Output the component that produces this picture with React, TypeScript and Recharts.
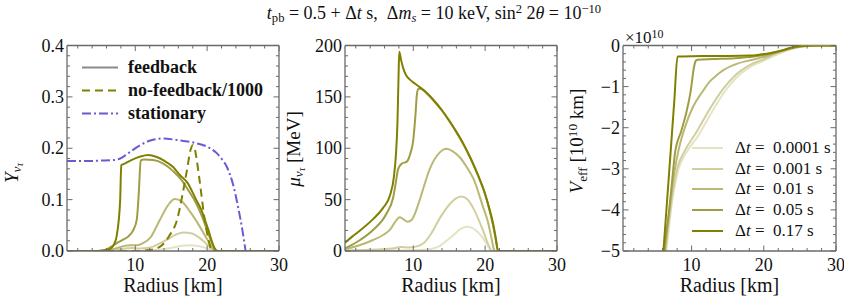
import React from 'react';
import { LineChart, Line, XAxis, YAxis, ReferenceLine } from 'recharts';

type Pt = [number, number];

// ---- values (radius in km, value) ----
const dtLabels = ['0.0001', '0.001', '0.01', '0.05', '0.17'];
const dtColors = ['#e4e3c4', '#d1cf9e', '#bab874', '#9f9d44', '#808000'];

// Y_nu_tau
const yDt00001: Pt[] = [[0.5, 0], [10, 0], [12, 0.001], [13.5, 0.003], [15, 0.006], [16.5, 0.01], [17.6, 0.011], [18.5, 0.01], [19.5, 0.007], [20.5, 0.003], [21.3, 0], [30, 0]];
const yDt0001: Pt[] = [[0.5, 0], [6, 0], [7.5, 0.002], [8.5, 0.005], [9.5, 0.006], [10.5, 0.005], [12.1, 0.007], [13, 0.012], [14.4, 0.022], [15.5, 0.031], [16.7, 0.036], [17.9, 0.034], [19, 0.025], [20.2, 0.01], [21, 0.001], [21.3, 0], [30, 0]];
const yDt001: Pt[] = [[0.5, 0], [5, 0], [6.5, 0.002], [7.5, 0.006], [8.5, 0.01], [9.3, 0.011], [10.2, 0.011], [11, 0.015], [12.1, 0.026], [13.4, 0.06], [14.6, 0.09], [15.5, 0.101], [16.5, 0.096], [17.6, 0.077], [19, 0.047], [20.2, 0.018], [21, 0.002], [21.3, 0], [30, 0]];
const yDt005: Pt[] = [[0.5, 0], [5, 0], [6, 0.003], [6.5, 0.007], [7.4, 0.015], [8.3, 0.022], [9, 0.028], [9.7, 0.04], [10.2, 0.06], [10.5, 0.115], [10.75, 0.176], [11.2, 0.178], [12.5, 0.177], [13.9, 0.17], [15.3, 0.155], [16.5, 0.137], [17.2, 0.122], [18.5, 0.092], [19.3, 0.067], [20, 0.04], [20.6, 0.018], [21.1, 0.004], [21.5, 0], [30, 0]];
const yDt017: Pt[] = [[0.5, 0], [4, 0], [5.5, 0.001], [6.5, 0.004], [7, 0.012], [7.4, 0.028], [7.7, 0.06], [7.9, 0.1], [8.05, 0.167], [8.5, 0.17], [9.3, 0.176], [10.7, 0.184], [11.8, 0.187], [13, 0.183], [14, 0.176], [15.3, 0.163], [16.2, 0.148], [17.2, 0.134], [18.5, 0.099], [19.2, 0.08], [19.7, 0.06], [20.2, 0.04], [20.6, 0.021], [21, 0.006], [21.4, 0], [30, 0]];
const yNoFeedback: Pt[] = [[0.5, 0], [10, 0], [12, 0.002], [13.4, 0.008], [14.8, 0.031], [15.8, 0.06], [16.6, 0.112], [17.2, 0.158], [17.7, 0.197], [18, 0.206], [18.3, 0.198], [18.5, 0.182], [19, 0.132], [19.6, 0.067], [20.2, 0.021], [20.6, 0.002], [20.8, 0], [30, 0]];
const yStationary: Pt[] = [[0.5, 0.175], [3, 0.175], [5.1, 0.176], [7, 0.177], [7.9, 0.18], [8.6, 0.186], [9.3, 0.193], [10.7, 0.206], [12.1, 0.215], [13.9, 0.219], [15.8, 0.216], [18.1, 0.211], [20, 0.203], [21.3, 0.191], [22.1, 0.178], [22.7, 0.165], [23.2, 0.148], [23.6, 0.13], [24.3, 0.086], [24.9, 0.041], [25.35, 0]];

// mu_nu_tau [MeV]
const muDt00001: Pt[] = [[0.5, 0], [8, 0.5], [11, 1], [12.5, 2], [13.7, 5], [15, 12], [15.6, 15.5], [16.5, 21], [17.4, 23.5], [18.3, 22], [19.3, 16], [20.2, 7.5], [20.9, 0], [30, 0]];
const muDt0001: Pt[] = [[0.5, 0.5], [5, 1.5], [7.5, 3], [8.2, 4], [9.5, 3.5], [10.5, 4.5], [11.5, 8], [12.5, 17], [13.7, 32], [15, 45], [16, 51.5], [16.7, 53], [17.5, 50.5], [18.4, 41], [19.7, 20], [20.4, 7], [21, 0], [30, 0]];
const muDt001: Pt[] = [[0.5, 1.7], [2.6, 5.8], [4.4, 10.7], [5.8, 15.6], [6.8, 21.1], [7.5, 28.5], [8.1, 32.8], [8.6, 31], [9.2, 28.5], [9.8, 30.5], [10.5, 41.5], [11, 52], [12.3, 80], [13.7, 96], [14.6, 99.5], [15.5, 97], [16.5, 91], [17.5, 81], [18.4, 70], [19.7, 43], [20.4, 28], [20.9, 12], [21.2, 2], [21.35, 0], [30, 0]];
const muDt005: Pt[] = [[0.5, 2.5], [2.6, 10.7], [4.4, 20.4], [6.3, 36.7], [7.2, 52], [7.6, 68], [7.9, 80], [8.4, 85], [9.1, 87], [9.6, 95], [10, 108], [10.3, 132], [10.5, 152], [10.7, 158], [11, 158], [12, 152.5], [13, 145], [14, 136.5], [15, 126.5], [16, 115.5], [17, 103.5], [18, 89.5], [19, 73.5], [20, 55], [20.6, 40], [21.1, 25], [21.5, 10], [21.8, 0], [30, 0]];
const muDt017: Pt[] = [[0.5, 8], [1.5, 14], [2.6, 20], [4.4, 31], [5.8, 42], [6.8, 55], [7.3, 72], [7.6, 95], [7.8, 125], [7.95, 170], [8.05, 194], [8.3, 186], [8.6, 178], [9, 171], [9.5, 167], [10.2, 163], [11, 159], [12, 153], [13, 145.5], [14, 137], [15, 127], [16, 116], [17, 104], [18, 90], [19, 74], [20, 55.5], [20.6, 41], [21.1, 27], [21.5, 12], [21.8, 0], [30, 0]];

// V_eff [10^10 km]
const vDt00001: Pt[] = [[5.5, -6.6], [6.5, -5], [7.3, -3.8], [8.2, -3], [9.3, -2.6], [10.9, -2.2], [12.7, -1.65], [14.6, -1.12], [16.4, -0.75], [18.3, -0.5], [20.1, -0.36], [21.2, -0.27], [22.2, -0.19], [23.6, -0.1], [25, -0.035], [26.5, -0.006], [28, 0], [30, 0]];
const vDt0001: Pt[] = [[5.5, -6.6], [6.4, -5], [7.2, -3.8], [8, -3], [9.1, -2.55], [10.7, -2.1], [12.5, -1.55], [14.4, -1.05], [16.2, -0.7], [18.1, -0.47], [19.9, -0.34], [21, -0.25], [22, -0.18], [23.5, -0.09], [25, -0.03], [26.5, -0.005], [28, 0], [30, 0]];
const vDt001: Pt[] = [[5.5, -6.6], [6.3, -5], [7, -3.9], [7.6, -3.1], [8.2, -2.54], [9.1, -1.98], [10.2, -1.49], [11.6, -1.1], [12.5, -0.88], [13.5, -0.72], [14.4, -0.6], [16.2, -0.45], [18.6, -0.34], [20.4, -0.255], [21.5, -0.19], [23, -0.11], [24.5, -0.04], [26, -0.01], [27.5, 0], [30, 0]];
const vDt005: Pt[] = [[5.5, -6.5], [6.2, -5], [6.9, -4], [7.3, -3.3], [7.7, -2.62], [8.6, -2.06], [9.3, -1.61], [9.9, -1.08], [10.3, -0.56], [10.55, -0.38], [10.8, -0.345], [13, -0.33], [16, -0.31], [18.6, -0.27], [20, -0.23], [21.5, -0.17], [23, -0.1], [24.5, -0.035], [26, -0.008], [27.5, 0], [30, 0]];
const vDt017: Pt[] = [[5.5, -6.45], [6.1, -5], [7, -2.82], [7.6, -1.36], [8.05, -0.27], [10, -0.26], [14, -0.255], [18, -0.245], [19.5, -0.22], [21, -0.18], [22.5, -0.12], [24, -0.04], [25.5, -0.01], [27, 0], [30, 0]];

const xTicks = [2, 4, 6, 8, 10, 12, 14, 16, 18, 20, 22, 24, 26, 28, 30];
const xMajors = [10, 20, 30];
const yTicksY = [0, 0.02, 0.04, 0.06, 0.08, 0.1, 0.12, 0.14, 0.16, 0.18, 0.2, 0.22, 0.24, 0.26, 0.28, 0.3, 0.32, 0.34, 0.36, 0.38, 0.4];
const yMajorsY = [0, 0.1, 0.2, 0.3, 0.4];
const yTicksMu = [0, 10, 20, 30, 40, 50, 60, 70, 80, 90, 100, 110, 120, 130, 140, 150, 160, 170, 180, 190, 200];
const yMajorsMu = [0, 50, 100, 150, 200];
const yTicksV = [-5, -4.8, -4.6, -4.4, -4.2, -4, -3.8, -3.6, -3.4, -3.2, -3, -2.8, -2.6, -2.4, -2.2, -2, -1.8, -1.6, -1.4, -1.2, -1, -0.8, -0.6, -0.4, -0.2, 0];
const yMajorsV = [-5, -4, -3, -2, -1, 0];

const FONT = 'Liberation Serif, Times New Roman, Tinos, DejaVu Serif, serif';
const FRAME = '#6a6a6a';
const STATIONARY = '#6a5bd3';
const H = 307;
const TOP = 45.5;
const BOTTOM = 251;

type Series = { key: string; pts: Pt[]; color: string; dash?: string };

const isMajor = (v: number, majors: number[]) => majors.some((m) => Math.abs(m - v) < 1e-9);

function Panel(props: {
  left: number;
  width: number;
  yAxisWidth: number;
  rightMargin: number;
  yDomain: [number, number];
  yTicks: number[];
  yMajors: number[];
  yFormat: (v: number) => string;
  series: Series[];
}) {
  const { left, width, yAxisWidth, rightMargin, yDomain, yTicks, yMajors, yFormat, series } = props;
  const plotRight = width - rightMargin;

  const xTick = (p: any) => {
    const v = p.payload.value;
    const major = isMajor(v, xMajors);
    const len = major ? 5.5 : 3;
    return (
      <g>
        <line x1={p.x} x2={p.x} y1={p.y} y2={p.y - len} stroke={FRAME} strokeWidth={1} />
        <line x1={p.x} x2={p.x} y1={TOP} y2={TOP + len} stroke={FRAME} strokeWidth={1} />
        {major && (
          <text x={p.x} y={p.y + 20} textAnchor="middle" fontSize={18} style={{ fontFamily: FONT }} fill="#111">
            {v}
          </text>
        )}
      </g>
    );
  };

  const yTick = (p: any) => {
    const v = p.payload.value;
    const major = isMajor(v, yMajors);
    const len = major ? 5.5 : 3;
    return (
      <g>
        <line x1={p.x} x2={p.x + len} y1={p.y} y2={p.y} stroke={FRAME} strokeWidth={1} />
        <line x1={plotRight} x2={plotRight - len} y1={p.y} y2={p.y} stroke={FRAME} strokeWidth={1} />
        {major && (
          <text x={p.x - 3} y={p.y + 6} textAnchor="end" fontSize={18} style={{ fontFamily: FONT }} fill="#111">
            {yFormat(v)}
          </text>
        )}
      </g>
    );
  };

  return (
    <div style={{ position: 'absolute', left, top: 0 }}>
      <LineChart width={width} height={H} margin={{ top: TOP, right: rightMargin, bottom: 0, left: 0 }}>
        <XAxis
          dataKey="r"
          type="number"
          domain={[0.5, 30]}
          ticks={xTicks}
          interval={0}
          allowDataOverflow
          height={H - BOTTOM}
          tickSize={0}
          tickMargin={0}
          tickLine={false}
          axisLine={{ stroke: FRAME, strokeWidth: 1.3 }}
          tick={xTick}
        />
        <YAxis
          type="number"
          domain={yDomain}
          ticks={yTicks}
          interval={0}
          allowDataOverflow
          width={yAxisWidth}
          tickSize={0}
          tickMargin={0}
          tickLine={false}
          axisLine={{ stroke: FRAME, strokeWidth: 1.3 }}
          tick={yTick}
        />
        <ReferenceLine y={yDomain[1]} stroke={FRAME} strokeWidth={1.3} />
        <ReferenceLine x={30} stroke={FRAME} strokeWidth={1.3} />
        {series.map((s) => (
          <Line
            key={s.key}
            name={s.key}
            data={s.pts.map(([r, v]) => ({ r, v }))}
            dataKey="v"
            type="monotone"
            stroke={s.color}
            strokeWidth={2}
            strokeDasharray={s.dash}
            strokeLinejoin="round"
            dot={false}
            activeDot={false}
            isAnimationActive={false}
          />
        ))}
      </LineChart>
    </div>
  );
}

const sub = (c: React.ReactNode, size = '0.7em', shift = '-0.25em') => (
  <span style={{ fontSize: size, verticalAlign: shift }}>{c}</span>
);
const sup = (c: React.ReactNode, size = '0.7em', shift = '0.45em') => (
  <span style={{ fontSize: size, verticalAlign: shift }}>{c}</span>
);

function RotLabel({ cx, cy, children }: { cx: number; cy: number; children: React.ReactNode }) {
  return (
    <div
      style={{
        position: 'absolute',
        left: cx,
        top: cy,
        transform: 'translate(-50%, -50%) rotate(-90deg)',
        whiteSpace: 'nowrap',
        fontFamily: FONT,
        fontSize: 19,
        lineHeight: '20px',
        color: '#111',
      }}
    >
      {children}
    </div>
  );
}

function XLabel({ cx }: { cx: number }) {
  return (
    <div
      style={{
        position: 'absolute',
        left: cx,
        top: 285,
        transform: 'translate(-50%, -50%)',
        whiteSpace: 'nowrap',
        fontFamily: FONT,
        fontSize: 20,
        color: '#111',
      }}
    >
      Radius [km]
    </div>
  );
}

function LegendLine({ color, dash }: { color: string; dash?: string }) {
  return (
    <svg width={36} height={6} style={{ display: 'block' }}>
      <line x1={0} x2={36} y1={3} y2={3} stroke={color} strokeWidth={2} strokeDasharray={dash} />
    </svg>
  );
}

export default function App() {
  const ySeries: Series[] = [
    { key: 'y1', pts: yDt00001, color: dtColors[0] },
    { key: 'y2', pts: yDt0001, color: dtColors[1] },
    { key: 'y3', pts: yDt001, color: dtColors[2] },
    { key: 'y4', pts: yDt005, color: dtColors[3] },
    { key: 'y5', pts: yDt017, color: dtColors[4] },
    { key: 'ynf', pts: yNoFeedback, color: dtColors[4], dash: '8 5' },
    { key: 'yst', pts: yStationary, color: STATIONARY, dash: '9 3 2 3' },
  ];
  const muSeries: Series[] = [muDt00001, muDt0001, muDt001, muDt005, muDt017].map((pts, i) => ({
    key: 'mu' + i,
    pts,
    color: dtColors[i],
  }));
  const vSeries: Series[] = [vDt00001, vDt0001, vDt001, vDt005, vDt017].map((pts, i) => ({
    key: 'v' + i,
    pts,
    color: dtColors[i],
  }));

  const p1Legend = [
    { label: 'feedback', color: '#8a8a8a' },
    { label: 'no-feedback/1000', color: dtColors[4], dash: '8 5' },
    { label: 'stationary', color: STATIONARY, dash: '9 3 2 3' },
  ];

  return (
    <div style={{ position: 'absolute', left: 0, top: 0, width: 844, height: H, background: '#fff', overflow: 'hidden', fontFamily: FONT }}>
      <Panel
        left={0}
        width={290}
        yAxisWidth={67}
        rightMargin={11}
        yDomain={[0, 0.4]}
        yTicks={yTicksY}
        yMajors={yMajorsY}
        yFormat={(v) => v.toFixed(1)}
        series={ySeries}
      />
      <Panel
        left={290}
        width={280}
        yAxisWidth={55}
        rightMargin={13}
        yDomain={[0, 200]}
        yTicks={yTicksMu}
        yMajors={yMajorsMu}
        yFormat={(v) => String(v)}
        series={muSeries}
      />
      <Panel
        left={570}
        width={274}
        yAxisWidth={53}
        rightMargin={8}
        yDomain={[-5, 0]}
        yTicks={yTicksV}
        yMajors={yMajorsV}
        yFormat={(v) => (v === 0 ? '0' : '\u2212' + Math.abs(v))}
        series={vSeries}
      />

      {/* title */}
      <div
        style={{
          position: 'absolute',
          left: 434,
          top: 2,
          transform: 'translateX(-50%)',
          whiteSpace: 'nowrap',
          fontFamily: FONT,
          fontSize: 18,
          color: '#111',
        }}
      >
        <i>t</i>
        {sub('pb')} = 0.5 + Δ<i>t</i> s,&nbsp; Δ<i>m</i>
        {sub(<i>s</i>)} = 10 keV, sin{sup('2')} 2<i>θ</i> = 10{sup('−10')}
      </div>

      {/* x10^10 */}
      <div style={{ position: 'absolute', left: 625, top: 27, fontFamily: FONT, fontSize: 17, color: '#111', whiteSpace: 'nowrap' }}>
        ×10{sup('10')}
      </div>

      <RotLabel cx={16} cy={173}>
        <i>Y</i>
        {sub(
          <>
            <i>ν</i>
            {sub(<i>τ</i>, '0.75em', '-0.2em')}
          </>
        )}
      </RotLabel>
      <RotLabel cx={298} cy={149}>
        <i>μ</i>
        {sub(
          <>
            <i>ν</i>
            {sub(<i>τ</i>, '0.75em', '-0.2em')}
          </>
        )}{' '}
        [MeV]
      </RotLabel>
      <RotLabel cx={578} cy={141}>
        <i>V</i>
        {sub('eff')} [10{sup('10')} km]
      </RotLabel>

      <XLabel cx={173} />
      <XLabel cx={451} />
      <XLabel cx={729.5} />

      {/* legend, left panel */}
      {p1Legend.map((it, i) => (
        <div
          key={it.label}
          style={{ position: 'absolute', left: 82, top: 67 + i * 23, transform: 'translateY(-50%)', display: 'flex', alignItems: 'center' }}
        >
          <LegendLine color={it.color} dash={it.dash} />
          <span style={{ marginLeft: 10, fontFamily: FONT, fontWeight: 'bold', fontSize: 18, color: '#111', whiteSpace: 'nowrap' }}>
            {it.label}
          </span>
        </div>
      ))}

      {/* legend, right panel */}
      {dtLabels.map((lab, i) => (
        <div
          key={lab}
          style={{ position: 'absolute', left: 692, top: 148 + i * 20.7, transform: 'translateY(-50%)', display: 'flex', alignItems: 'center' }}
        >
          <svg width={31} height={6} style={{ display: 'block' }}>
            <line x1={0} x2={31} y1={3} y2={3} stroke={dtColors[i]} strokeWidth={2} />
          </svg>
          <span style={{ marginLeft: 12, fontFamily: FONT, fontSize: 17, color: '#111', whiteSpace: 'nowrap' }}>
            Δ<i>t</i> =&nbsp; {lab} s
          </span>
        </div>
      ))}
    </div>
  );
}
